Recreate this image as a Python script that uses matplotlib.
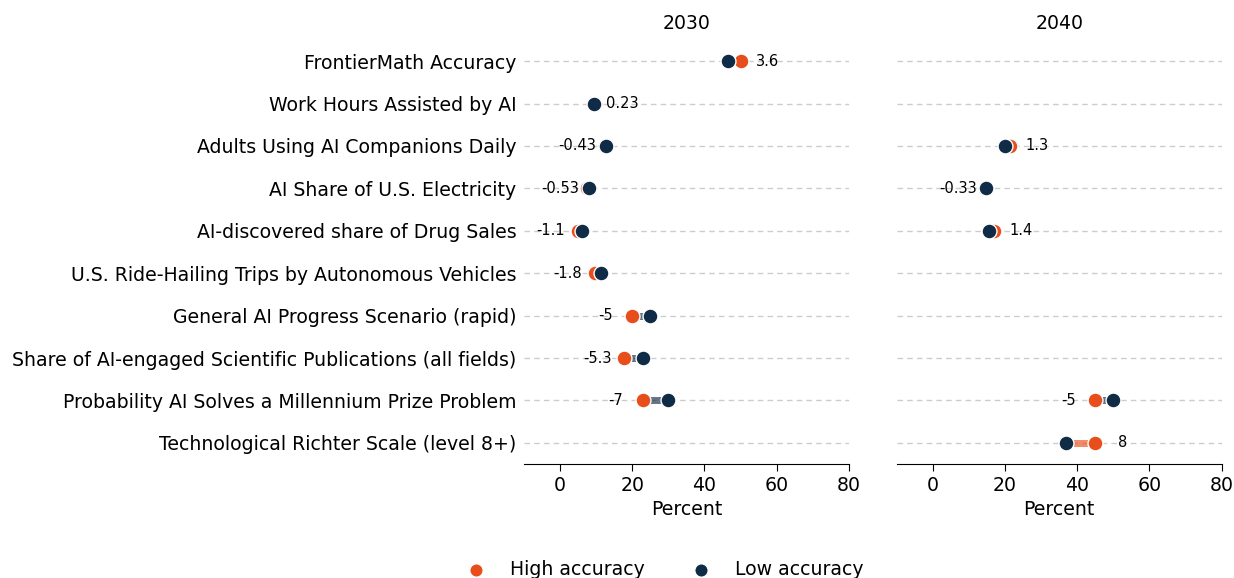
import numpy as np
import matplotlib
matplotlib.use("Agg")
import matplotlib.pyplot as plt

# Questions (top to bottom)
questions = [
    "FrontierMath Accuracy",
    "Work Hours Assisted by AI",
    "Adults Using AI Companions Daily",
    "AI Share of U.S. Electricity",
    "AI-discovered share of Drug Sales",
    "U.S. Ride-Hailing Trips by Autonomous Vehicles",
    "General AI Progress Scenario (rapid)",
    "Share of AI-engaged Scientific Publications (all fields)",
    "Probability AI Solves a Millennium Prize Problem",
    "Technological Richter Scale (level 8+)",
]

nan = np.nan
# median forecasts (percent) by accuracy group
high_2030 = [50.0, 9.73, 12.37, 7.57, 5.0, 9.6, 20.0, 17.8, 23.0, nan]
low_2030 = [46.4, 9.5, 12.8, 8.1, 6.1, 11.4, 25.0, 23.1, 30.0, nan]
high_2040 = [nan, nan, 21.3, 14.37, 17.0, nan, nan, nan, 45.0, 45.0]
low_2040 = [nan, nan, 20.0, 14.7, 15.6, nan, nan, nan, 50.0, 37.0]

years = ["2030", "2040"]
high_color = "#E84E1B"
low_color = "#0F2B46"

fig, axes = plt.subplots(1, 2, figsize=(12.34, 5.78), dpi=100, sharey=True)
fig.subplots_adjust(left=0.4246, right=0.990, bottom=0.197, top=0.931, wspace=0.148)

y = np.arange(len(questions))

for ax, year, hi, lo in zip(axes, years, [high_2030, high_2040], [low_2030, low_2040]):
    hi = np.array(hi)
    lo = np.array(lo)
    for i in y:
        ax.axhline(i, color="#cccccc", linestyle=(0, (4, 3)), linewidth=1, zorder=0)
    for i in y:
        if np.isnan(hi[i]) or np.isnan(lo[i]):
            continue
        d = hi[i] - lo[i]
        col = high_color if d > 0 else low_color
        ax.plot([hi[i], lo[i]], [i, i], color=col, alpha=0.65, linewidth=5,
                solid_capstyle="butt", zorder=1)
        # difference label, beyond the outer point
        if d > 0:
            tx = max(hi[i], lo[i]) + 7.5
        else:
            tx = min(hi[i], lo[i]) - 7.5
        ax.text(tx, i, f"{d:.2g}", ha="center", va="center", fontsize=10.5, zorder=4)
    ax.scatter(hi, y, s=115, color=high_color, edgecolor="white", linewidth=1,
               zorder=2, label="High accuracy")
    ax.scatter(lo, y, s=115, color=low_color, edgecolor="white", linewidth=1,
               zorder=3, label="Low accuracy")
    ax.set_xlim(-10, 80)
    ax.set_xticks([0, 20, 40, 60, 80])
    ax.set_ylim(len(questions) - 0.5, -0.5)
    ax.set_title(year, fontsize=13.6, pad=8)
    ax.set_xlabel("Percent", fontsize=13.6)
    ax.tick_params(axis="x", labelsize=13.6, length=5)
    ax.tick_params(axis="y", length=0, pad=5.5)
    for s in ["top", "right", "left"]:
        ax.spines[s].set_visible(False)

axes[0].set_yticks(y)
axes[0].set_yticklabels(questions, fontsize=13.6)
axes[1].tick_params(axis="y", labelleft=False)

handles, labels = axes[0].get_legend_handles_labels()
fig.legend(handles, labels, loc="center", bbox_to_anchor=(0.535, 0.015), ncol=2,
           frameon=False, fontsize=13.6, markerscale=0.9)

fig.savefig("out.png", dpi=100)
